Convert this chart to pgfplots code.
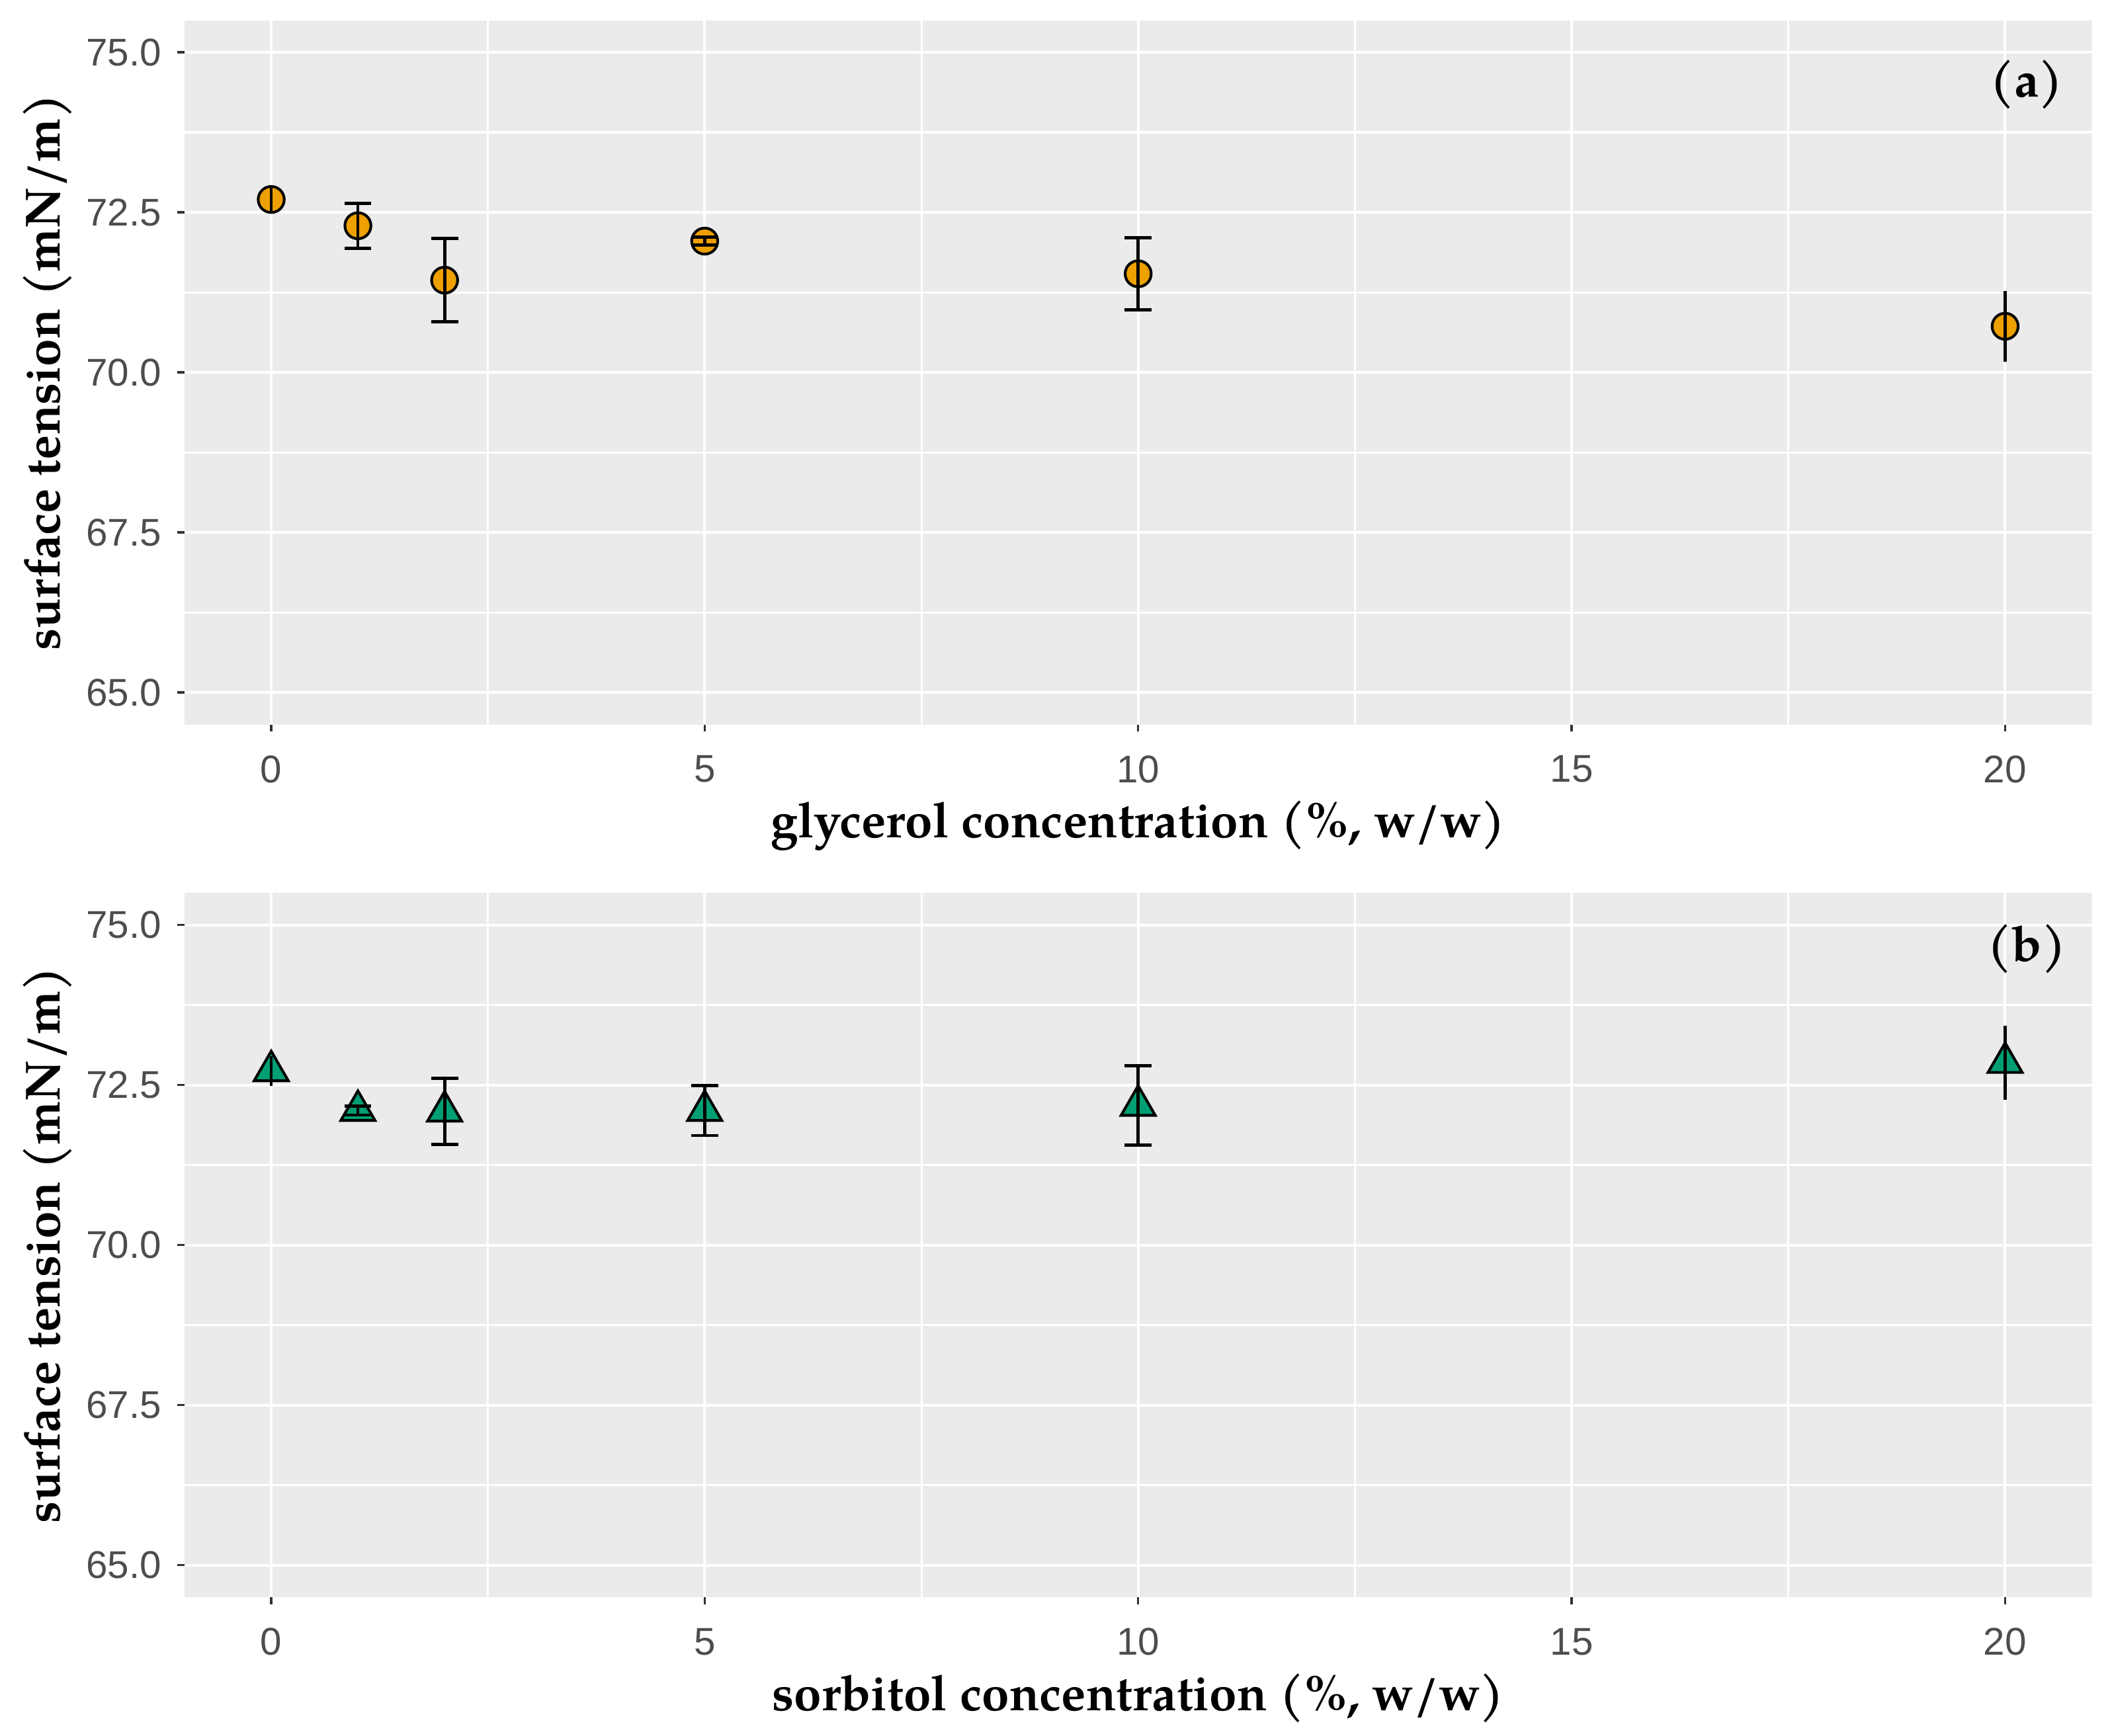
\documentclass[border=0pt]{standalone}
\usepackage{fontspec}
\setmainfont{Liberation Sans}
\newfontfamily\pal{TeX Gyre Pagella}
\usepackage{pgfplots}
\usepackage{pgfplotstable}
\pgfplotsset{compat=1.18}
\definecolor{panelbg}{HTML}{EBEBEB}
\definecolor{ticklab}{HTML}{4D4D4D}
\definecolor{tickcol}{HTML}{333333}
\definecolor{orangept}{HTML}{EDA000}
\definecolor{greenpt}{HTML}{009E73}

% glycerol: x, mean, sd
\pgfplotstableread{
x y e
1 72.29 0.35
2 71.44 0.65
5 72.05 0.06
10 71.54 0.565
}\glycap
\pgfplotstableread{
x y e
0 72.70 0.21
20 70.72 0.555
}\glynocap
\pgfplotstableread{
x y e
1 72.10 0.07
2 72.09 0.515
5 72.10 0.39
10 72.18 0.62
}\sorcap
\pgfplotstableread{
x y e
0 72.72 0.23
20 72.85 0.58
}\sornocap

\pgfplotsset{
 ggstyle/.style={
  set layers,
  width=424.8pt, height=156.9pt, scale only axis,
  xmin=-1, xmax=21, ymin=64.5, ymax=75.5,
  xtick={0,5,10,15,20}, ytick={65,67.5,70,72.5,75},
  minor xtick={2.5,7.5,12.5,17.5}, minor ytick={66.25,68.75,71.25,73.75},
  grid=both,
  major grid style={white, line width=0.6pt},
  minor grid style={white, line width=0.45pt},
  axis background/.style={fill=panelbg},
  axis line style={draw=none},
  tick align=outside,
  major tick length=1.6pt, minor tick length=0pt,
  tick style={tickcol, line width=0.5pt},
  xtick pos=bottom, ytick pos=left,
  tick label style={font=\fontsize{8.6}{10}\selectfont, text=ticklab},
  xticklabel style={yshift=-1.8pt},
  /pgf/number format/assume math mode=true,
  yticklabel style={/pgf/number format/.cd, fixed, fixed zerofill, precision=1},
  label style={font=\pal\bfseries\fontsize{11}{13}\selectfont},
  xlabel style={at={(axis description cs:0.5,-0.1434)}, anchor=center},
  ylabel style={at={(axis description cs:-0.072,0.5)}, anchor=center},
  ylabel={surface tension (mN/m)},
  clip=false,
 },
 ebars/.style={draw=none, mark=none, on layer=axis foreground,
   error bars/.cd, y dir=both, y explicit,
   error bar style={draw=black, line width=0.7pt},
   error mark options={rotate=90, mark size=3pt, line width=0.7pt, draw=black}},
 ebarsnc/.style={draw=none, mark=none, on layer=axis foreground,
   error bars/.cd, y dir=both, y explicit, error mark=none,
   error bar style={draw=black, line width=0.7pt}},
}

\begin{document}
\begin{tikzpicture}
\begin{axis}[ggstyle, at={(0,194.4pt)}, anchor=south west,
  xlabel={glycerol concentration (\%, w/w)}]
\addplot[only marks, mark=*, mark size=2.9pt, mark options={draw=black, fill=orangept, line width=0.6pt}] table[x=x,y=y] {\glycap};
\addplot[only marks, mark=*, mark size=2.9pt, mark options={draw=black, fill=orangept, line width=0.6pt}] table[x=x,y=y] {\glynocap};
\addplot[ebars] table[x=x,y=y,y error=e] {\glycap};
\addplot[ebarsnc] table[x=x,y=y,y error=e] {\glynocap};
\node[font=\pal\bfseries\fontsize{11}{13}\selectfont] at (axis cs:20.25,74.5) {(a)};
\end{axis}
\begin{axis}[ggstyle, at={(0,0)}, anchor=south west,
  xlabel={sorbitol concentration (\%, w/w)}]
\addplot[only marks, mark=triangle*, mark size=4.4pt, mark options={draw=black, fill=greenpt, line width=0.6pt}] table[x=x,y=y] {\sorcap};
\addplot[only marks, mark=triangle*, mark size=4.4pt, mark options={draw=black, fill=greenpt, line width=0.6pt}] table[x=x,y=y] {\sornocap};
\addplot[ebars] table[x=x,y=y,y error=e] {\sorcap};
\addplot[ebarsnc] table[x=x,y=y,y error=e] {\sornocap};
\node[font=\pal\bfseries\fontsize{11}{13}\selectfont] at (axis cs:20.25,74.62) {(b)};
\end{axis}
\pgfresetboundingbox
\path[use as bounding box] (-41.1pt,-30.9pt) rectangle (429.3pt,355.8pt);
\end{tikzpicture}
\end{document}
